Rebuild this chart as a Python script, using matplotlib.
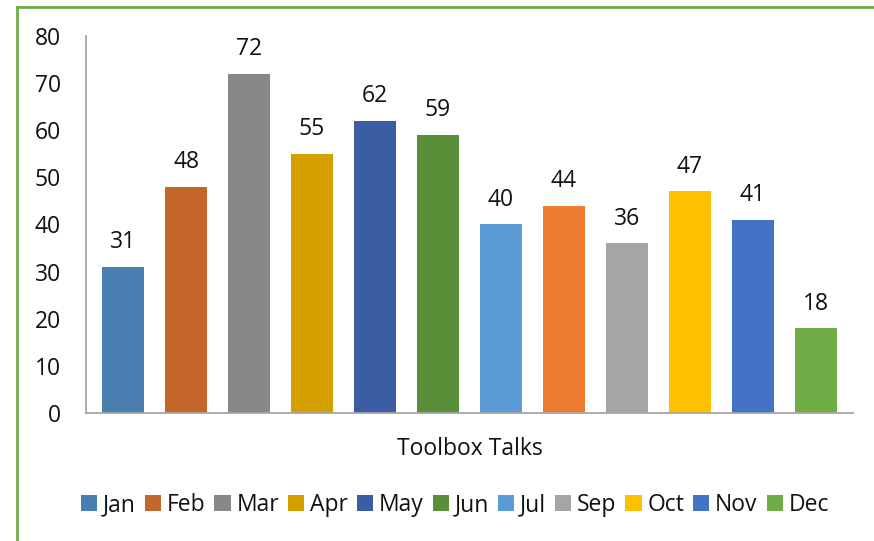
import matplotlib.pyplot as plt
from matplotlib.lines import Line2D
from matplotlib.patches import Patch

# Toolbox talks per month (bar data)
months = ['Jan', 'Feb', 'Mar', 'Apr', 'May', 'Jun', 'Jul', 'Aug', 'Sep', 'Oct', 'Nov', 'Dec']
talks = [31, 48, 72, 55, 62, 59, 40, 44, 36, 47, 41, 18]
colors = ['#4A7EB0', '#C4652A', '#888888', '#D4A000', '#3A5DA3', '#5A8F3A',
          '#5B9BD5', '#ED7D31', '#A5A5A5', '#FFC000', '#4472C4', '#70AD47']
# the legend of the original leaves out Aug
legend_months = ['Jan', 'Feb', 'Mar', 'Apr', 'May', 'Jun', 'Jul', 'Sep', 'Oct', 'Nov', 'Dec']

plt.rcParams['font.family'] = ['Open Sans', 'DejaVu Sans']
FS = 16.5

fig = plt.figure(figsize=(8.74, 5.41), dpi=100)
ax = fig.add_axes([0.0984, 0.2366, 0.8776, 0.6969])

x = range(len(months))
bars = ax.bar(x, talks, width=0.667, color=colors)

for xi, v in zip(x, talks):
    ax.annotate(str(v), (xi, v), xytext=(0, 9), textcoords='offset points',
                ha='center', va='bottom', fontsize=FS, color='#111111')

ax.set_xlim(-0.59, len(months) - 0.41)
ax.set_ylim(0, 80)
ax.set_yticks(range(0, 81, 10))
ax.set_xticks([])
ax.tick_params(axis='y', length=0, pad=18, labelsize=FS, labelcolor='#111111')

for s in ['top', 'right']:
    ax.spines[s].set_visible(False)
for s in ['left', 'bottom']:
    ax.spines[s].set_color('#A6A6A6')
    ax.spines[s].set_linewidth(1.3)

ax.set_xlabel('Toolbox Talks', fontsize=FS, color='#111111', labelpad=17)

# legend
handles = [Patch(facecolor=colors[months.index(m)], label=m) for m in legend_months]
fig.legend(handles=handles, loc='center', bbox_to_anchor=(455 / 874, 0.066),
           ncol=len(handles), frameon=False, fontsize=FS,
           handlelength=0.7, handleheight=0.7, handletextpad=0.25,
           columnspacing=0.4, labelcolor='#111111')

# green frame (top and left edges show)
fig.add_artist(Line2D([17 / 874, 1.0], [1 - 7 / 541, 1 - 7 / 541],
                      transform=fig.transFigure, color='#70AD47', linewidth=2))
fig.add_artist(Line2D([17 / 874, 17 / 874], [0, 1 - 7 / 541],
                      transform=fig.transFigure, color='#70AD47', linewidth=2))

fig.savefig('out.png', dpi=100, facecolor='white')
